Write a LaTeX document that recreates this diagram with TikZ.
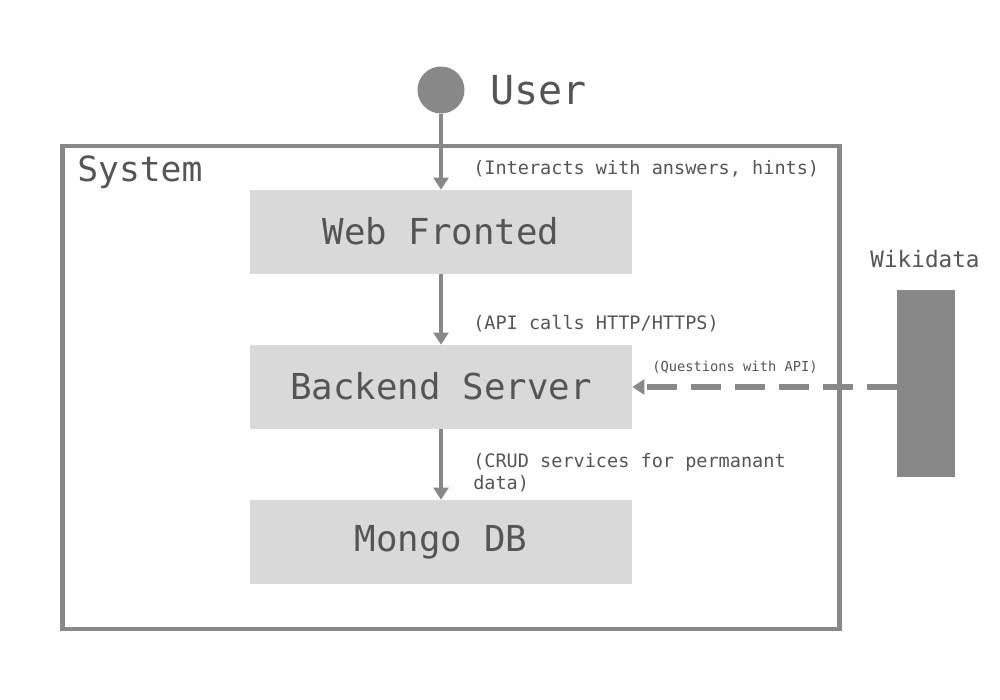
\documentclass[tikz,border=0pt]{standalone}
\usepackage{fontspec}
\setmonofont{DejaVu Sans Mono}
\usetikzlibrary{arrows.meta}
\definecolor{lineg}{HTML}{888888}
\definecolor{boxg}{HTML}{D9D9D9}
\definecolor{txtg}{HTML}{555555}
\tikzset{
  comp/.style={fill=boxg, draw=none, minimum width=382*0.75pt, minimum height=84*0.75pt, inner sep=0pt, text=txtg, font=\ttfamily\fontsize{26.8}{30}\selectfont},
  flow/.style={draw=lineg, line width=3pt, -{Triangle[length=9pt,width=11pt]}},
  lbl/.style={text=txtg, anchor=west, inner sep=0pt, align=left, font=\ttfamily\fontsize{13.9}{16.5}\selectfont},
}
\begin{document}
\begin{tikzpicture}[x=0.75pt,y=-0.75pt]
\useasboundingbox (0,0) rectangle (1000,700);
% system frame
\node[draw=lineg, line width=3.2pt, minimum width=777*0.75pt, minimum height=483*0.75pt, inner sep=0pt] (sys) at (451,387.5) {};
\node[text=txtg, anchor=west, inner sep=0pt, font=\ttfamily\fontsize{26}{30}\selectfont] (systxt) at (77,172) {System};
% user
\node[circle, fill=lineg, minimum size=47*0.75pt, inner sep=0pt] (user) at (441,90) {};
\node[text=txtg, anchor=west, inner sep=0pt, font=\ttfamily\fontsize{30}{34}\selectfont] (usertxt) at (490,90) {User};
% components
\node[comp] (web) at (441,232) {\raisebox{2pt}{Web Fronted}};
\node[comp] (back) at (441,387) {\raisebox{2pt}{Backend Server}};
\node[comp] (db) at (441,542) {\raisebox{2pt}{Mongo DB}};
% wikidata
\node[fill=lineg, minimum width=58*0.75pt, minimum height=187*0.75pt, inner sep=0pt] (wiki) at (926,383.5) {};
\node[text=txtg, inner sep=0pt, font=\ttfamily\fontsize{17}{20}\selectfont] (wikitxt) at (925,259) {Wikidata};
% arrows
\draw[flow] (user) -- (web.north);
\draw[flow] (web) -- (back);
\draw[flow] (back) -- (db);
\draw[draw=lineg, line width=3.8pt, dash pattern=on 22pt off 11pt, -{Triangle[length=9pt,width=11pt]}] (wiki.west|-back) -- (back.east);
% labels
\node[lbl] (l1) at (473,169) {(Interacts with answers, hints)};
\node[lbl] (l2) at (473,324) {(API calls HTTP/HTTPS)};
\node[lbl, anchor=north west] (l3) at (473,453) {(CRUD services for permanant\\data)};
\node[lbl, font=\ttfamily\fontsize{10.3}{12}\selectfont] (l4) at (652,367) {(Questions with API)};
\end{tikzpicture}
\end{document}
